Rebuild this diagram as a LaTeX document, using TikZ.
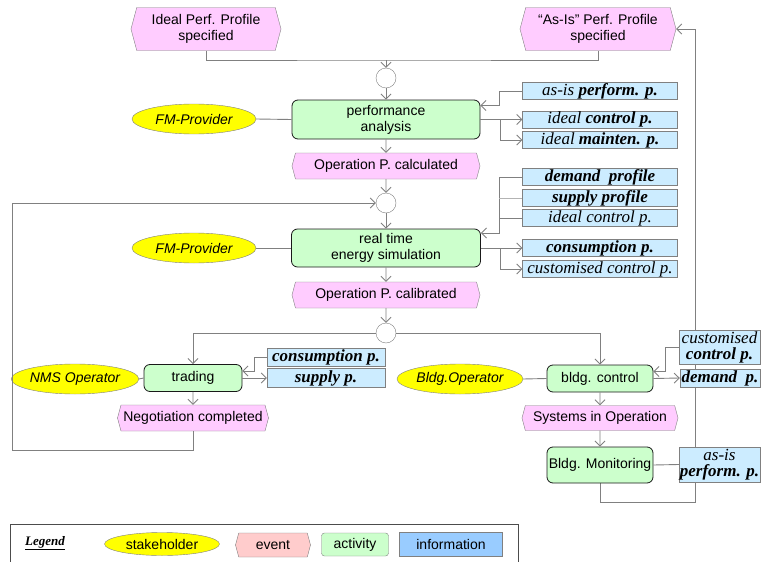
\documentclass[tikz,border=0pt]{standalone}
\usepackage{fontspec}
\setmainfont{Liberation Serif}
\setsansfont{Liberation Sans}
\usetikzlibrary{shapes.geometric,shapes.symbols,arrows.meta,backgrounds}

\definecolor{eventPink}{RGB}{255, 204, 255}
\definecolor{eventRed}{RGB}{255, 204, 204}
\definecolor{activityGreen}{RGB}{204, 255, 204}
\definecolor{infoBlue}{RGB}{204, 236, 255}
\definecolor{legendBlue}{RGB}{153, 204, 255}
\definecolor{stakeYellow}{RGB}{255, 255, 0}
\definecolor{lineGray}{RGB}{128, 128, 128}

\tikzset{
  stakeholder/.style={draw=lineGray,ellipse,fill=stakeYellow,inner sep=0pt,font=\sffamily\itshape\fontsize{14}{16}\selectfont},
  eventbox/.style={draw=lineGray,signal,signal to=east and west,signal pointer angle=150,fill=eventPink,inner sep=0pt,align=center,font=\sffamily\fontsize{14}{16}\selectfont},
  activitybox/.style={draw=black!90,line width=0.8pt,rounded corners=6pt,fill=activityGreen,inner sep=0pt,align=center,font=\sffamily\fontsize{14}{16}\selectfont},
  infobox/.style={draw=lineGray,fill=infoBlue,inner sep=0pt,align=center,font=\rmfamily\itshape\fontsize{17}{16}\selectfont},
  junction/.style={draw=lineGray,circle,fill=white,minimum size=20pt,inner sep=0pt},
  link/.style={draw=lineGray,line width=0.9pt},
  flow/.style={link,-{Straight Barb[length=5pt,width=10pt]}},
}

\begin{document}
\begin{tikzpicture}[x=1pt,y=-1pt]
      \useasboundingbox (0,0) rectangle (761,562);

      % Profiles specified
      \node[eventbox,minimum width=150pt,minimum height=43pt] (idealProf) at (206,29) {Ideal Perf. Profile\\specified};
      \node[eventbox,minimum width=156pt,minimum height=43pt] (asIsProf) at (598,29) {``As-Is'' Perf. Profile\\specified};
      \coordinate (merge1) at (386,60);
      \node[junction] (j1) at (386,78) {};

      % performance analysis
      \node[activitybox,minimum width=188pt,minimum height=39pt] (perf) at (386,119.5) {performance\\analysis};
      \node[stakeholder,minimum width=124pt,minimum height=30pt] (fm1) at (194,119) {FM-Provider};
      \node[infobox,minimum width=155pt,minimum height=17pt] (asIsPerf) at (600,91) {as-is \textbf{perform. p.}};
      \node[infobox,minimum width=155pt,minimum height=17pt] (idealCtl) at (600,119.5) {ideal \textbf{control p.}};
      \node[infobox,minimum width=155pt,minimum height=17pt] (idealMnt) at (600,140) {ideal \textbf{mainten. p.}};
      \node[eventbox,minimum width=188pt,minimum height=26pt] (opCalc) at (386,166) {Operation P. calculated};
      \node[junction] (j2) at (386,203) {};

      % energy simulation
      \node[activitybox,minimum width=189pt,minimum height=38pt] (sim) at (386,248) {real time\\energy simulation};
      \node[stakeholder,minimum width=124pt,minimum height=30pt] (fm2) at (194,248) {FM-Provider};
      \node[infobox,minimum width=155pt,minimum height=17pt] (demProf) at (600,177) {\textbf{demand\ \ profile}};
      \node[infobox,minimum width=155pt,minimum height=17pt] (supProf) at (600,198) {\textbf{supply profile}};
      \node[infobox,minimum width=155pt,minimum height=17pt] (idealCtl2) at (600,218) {ideal control p.};
      \node[infobox,minimum width=155pt,minimum height=17pt] (consSim) at (600,248) {\textbf{consumption p.}};
      \node[infobox,minimum width=155pt,minimum height=17pt] (custSim) at (600,269) {customised control p.};
      \node[eventbox,minimum width=188pt,minimum height=26pt] (opCalib) at (386,295) {Operation P. calibrated};
      \node[junction] (j3) at (386,333) {};

      % trading
      \node[activitybox,minimum width=98pt,minimum height=27pt] (trading) at (193,378) {trading};
      \node[stakeholder,minimum width=110pt,minimum height=30pt] (nms) at (75,379) {NMS Operator};
      \node[infobox,minimum width=118pt,minimum height=18pt] (consTr) at (326,357) {\textbf{consumption p.}};
      \node[infobox,minimum width=118pt,minimum height=19pt] (supTr) at (326,378) {\textbf{supply p.}};
      \node[eventbox,minimum width=151pt,minimum height=26pt] (negot) at (193,418) {Negotiation completed};
      \coordinate (loopL) at (12,450);

      % building control
      \node[activitybox,minimum width=106pt,minimum height=27pt] (bldg) at (600,378.5) {bldg. control};
      \node[stakeholder,minimum width=126pt,minimum height=30pt] (bldgOp) at (460,379) {Bldg.Operator};
      \node[infobox,minimum width=81pt,minimum height=34pt] (custCtl) at (719.5,347) {customised\\\textbf{control p.}};
      \node[infobox,minimum width=80pt,minimum height=18pt] (demP) at (720,378) {\textbf{demand\ \ p.}};
      \node[eventbox,minimum width=156pt,minimum height=25pt] (sysOp) at (600,418) {Systems in Operation};
      \node[activitybox,minimum width=106pt,minimum height=36pt] (monitor) at (600,465) {Bldg. Monitoring};
      \node[infobox,minimum width=81pt,minimum height=35pt] (asIsMon) at (719.5,464.5) {as-is\\\textbf{perform. p.}};
      \coordinate (loopR) at (695,502);

      % connectors
      \draw[link] (idealProf.south) |- (merge1) -| (asIsProf.south);
      \draw[flow] (merge1) -- (j1.north);
      \draw[flow] (j1) -- (perf);
      \draw[link] (fm1.east) -- (perf.west);
      \draw[flow] (asIsPerf.west) -- ++(-23,0) |- ([yshift=14pt]perf.east);
      \draw[flow] (perf.east) -- (idealCtl.west);
      \draw[flow] ([xshift=20pt]perf.east) |- (idealMnt.west);
      \draw[flow] (perf) -- (opCalc);
      \draw[flow] (opCalc) -- (j2);
      \draw[flow] (j2) -- (sim);
      \draw[link] (fm2.east) -- (sim.west);
      \draw[flow] (demProf.west) -- ++(-23,0) |- ([yshift=15pt]sim.east);
      \draw[link,lineGray!60] (supProf.west) -- ++(-23,0);
      \draw[link] (idealCtl2.west) -- ++(-23,0);
      \draw[flow] (sim.east) -- (consSim.west);
      \draw[flow] ([xshift=20pt]sim.east) |- (custSim.west);
      \draw[flow] (sim) -- (opCalib);
      \draw[flow] (opCalib) -- (j3);
      \draw[flow] (j3.west) -| (trading.north);
      \draw[flow] (j3.east) -| (bldg.north);
      \draw[link] (nms.east) -- (trading.west);
      \draw[flow] (consTr.west) -- ++(-12,0) |- ([yshift=7pt]trading.east);
      \draw[flow] (trading.east) -- (supTr.west);
      \draw[flow] (trading) -- (negot);
      \draw[flow] (negot.south) |- (loopL) |- (j2.west);
      \draw[link] (bldgOp.east) -- (bldg.west);
      \draw[flow] (custCtl.west) -- ++(-13,0) |- ([yshift=7pt]bldg.east);
      \draw[flow] (bldg.east) -- (demP.west);
      \draw[flow] (bldg) -- (sysOp);
      \draw[flow] (sysOp) -- (monitor);
      \draw[link] (monitor.east) -- (asIsMon.west);
      \begin{scope}[on background layer]
        \draw[flow] (monitor.south) |- (loopR) |- (asIsProf.east);
      \end{scope}

      % Legend
      \node[draw=black!70,anchor=north west,minimum width=508pt,minimum height=46pt,inner sep=0pt] (legendFrame) at (10,524) {};
      \node[font=\rmfamily\bfseries\itshape\fontsize{13}{15}\selectfont] (legendTitle) at (45,543) {\underline{Legend}};
      \node[stakeholder,minimum width=115pt,minimum height=23pt,font=\sffamily\fontsize{14}{16}\selectfont] (legStake) at (162,544) {stakeholder};
      \node[eventbox,fill=eventRed,minimum width=75pt,minimum height=24pt] (legEvent) at (273,545) {event};
      \node[activitybox,draw=lineGray,line width=0.4pt,rounded corners=3pt,minimum width=67pt,minimum height=23pt] (legAct) at (355,544.5) {activity};
      \node[infobox,fill=legendBlue,minimum width=103pt,minimum height=24pt,font=\sffamily\fontsize{14}{16}\selectfont] (legInfo) at (451,544) {information};
    \end{tikzpicture}
\end{document}
